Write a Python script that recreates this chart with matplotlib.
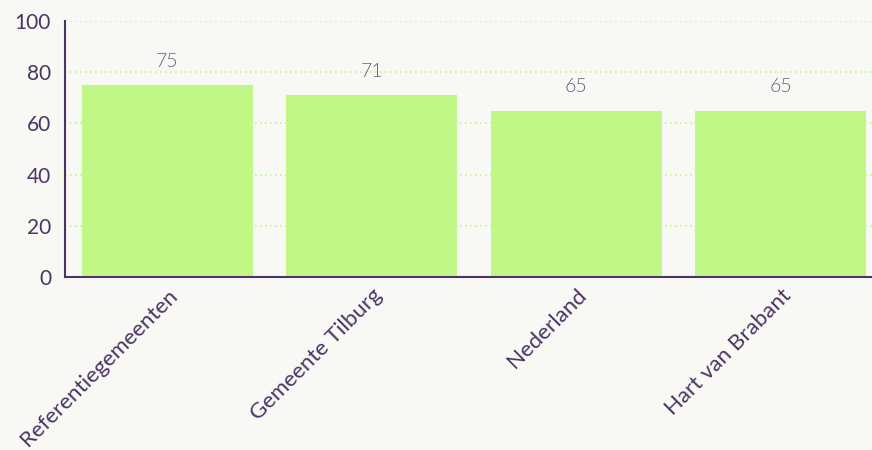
import matplotlib.pyplot as plt
import numpy as np

categories = ['Referentiegemeenten', 'Gemeente Tilburg', 'Nederland', 'Hart van Brabant']
values = [75, 71, 65, 65]

bg = '#f8f8f4'
bar_color = '#c1f786'
text_color = '#4b3564'
label_color = '#6e5c80'

plt.rcParams['font.family'] = ['Lato', 'DejaVu Sans']

fig = plt.figure(figsize=(8.72, 4.5), dpi=100, facecolor=bg)
ax = fig.add_axes([65 / 872, 1 - 277 / 450, 1 - 65 / 872, (277 - 21) / 450])
ax.set_facecolor(bg)

x = np.arange(len(categories))
bars = ax.bar(x, values, width=0.836, color=bar_color, zorder=2)

for xi, v in zip(x, values):
    ax.annotate(f'{v}', (xi, v), xytext=(0, 11), textcoords='offset points',
                ha='center', va='bottom', fontsize=14, color=label_color,
                fontweight=300)

ax.set_ylim(0, 100)
ax.set_xlim(-0.5, 3.5 - 11 / 204.5)
ax.set_yticks([0, 20, 40, 60, 80, 100])
ax.yaxis.grid(True, linestyle=(0, (1, 2)), color=bar_color, linewidth=1.2, zorder=0)
ax.set_xticks(x)
ax.set_xticklabels(categories, rotation=45, ha='right', rotation_mode='anchor',
                   fontsize=16, color=text_color)
ax.tick_params(axis='both', length=0, pad=6)
ax.tick_params(axis='y', labelsize=15, labelcolor=text_color, pad=10)

for s in ['top', 'right']:
    ax.spines[s].set_visible(False)
for s in ['left', 'bottom']:
    ax.spines[s].set_color(text_color)
    ax.spines[s].set_linewidth(1.5)

plt.savefig('out.png', dpi=100, facecolor=bg)
